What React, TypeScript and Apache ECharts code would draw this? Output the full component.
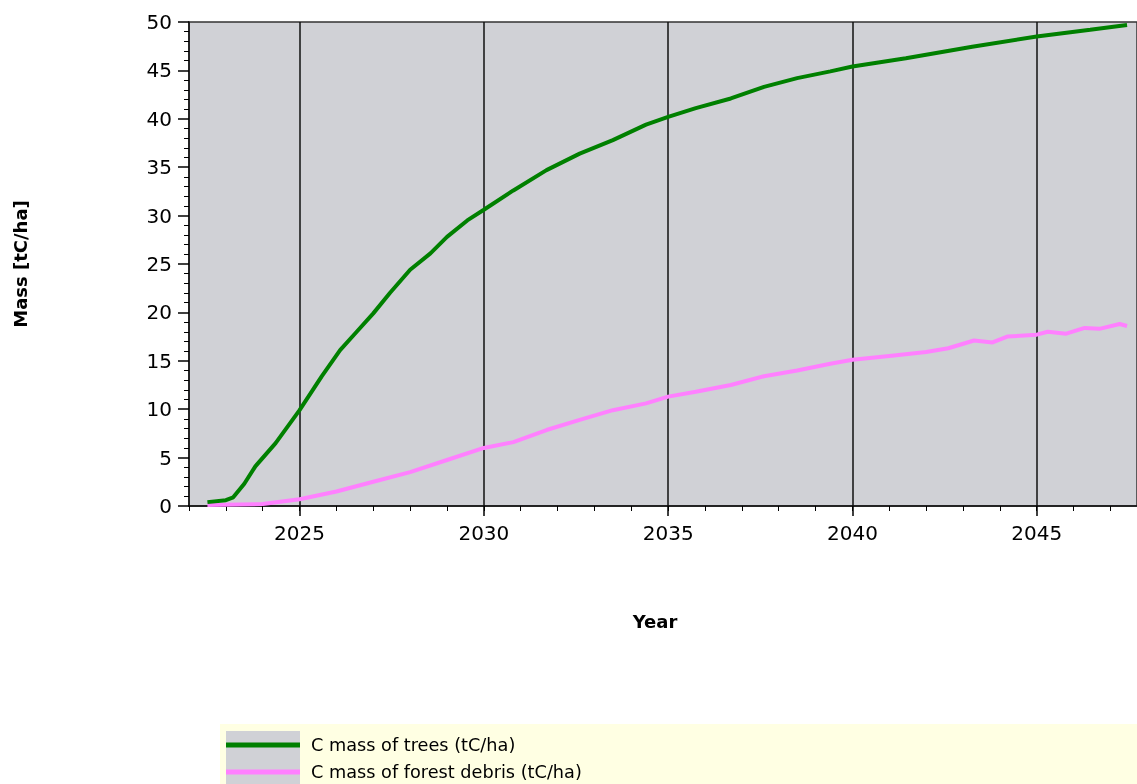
import React, { useEffect, useRef } from "react";
import * as echarts from "echarts";

const treeYears = [2022.5, 2023.0, 2023.2, 2023.5, 2023.8, 2024.35, 2025.0, 2025.6, 2026.1, 2026.55, 2027.0, 2027.45, 2028.0, 2028.55, 2029.0, 2029.55, 2030.0, 2030.8, 2031.7, 2032.6, 2033.5, 2034.4, 2035.0, 2035.75, 2036.7, 2037.6, 2038.5, 2039.4, 2040.0, 2041.45, 2043.25, 2045.0, 2046.45, 2047.45];
const treeValues = [0.4, 0.6, 0.9, 2.3, 4.1, 6.5, 9.9, 13.4, 16.1, 18.0, 19.9, 22.0, 24.4, 26.1, 27.8, 29.5, 30.6, 32.6, 34.7, 36.4, 37.8, 39.4, 40.2, 41.1, 42.1, 43.3, 44.2, 44.9, 45.4, 46.25, 47.45, 48.5, 49.2, 49.7];

const debrisYears = [2022.5, 2024.0, 2025.0, 2026.0, 2027.0, 2028.0, 2029.0, 2030.0, 2030.8, 2031.7, 2032.6, 2033.5, 2034.4, 2035.0, 2035.75, 2036.7, 2037.6, 2038.5, 2039.4, 2040.0, 2041.0, 2042.0, 2042.6, 2043.3, 2043.8, 2044.2, 2045.0, 2045.3, 2045.8, 2046.3, 2046.7, 2047.25, 2047.45];
const debrisValues = [0.1, 0.2, 0.7, 1.5, 2.5, 3.5, 4.75, 6.0, 6.6, 7.85, 8.9, 9.9, 10.6, 11.3, 11.8, 12.5, 13.4, 14.0, 14.7, 15.1, 15.5, 15.9, 16.3, 17.1, 16.9, 17.5, 17.7, 18.0, 17.8, 18.4, 18.3, 18.8, 18.6];

const majorYears = [2025, 2030, 2035, 2040, 2045];
const seriesNames = ["C mass of trees (tC/ha)", "C mass of forest debris (tC/ha)"];
const seriesColors = ["#008000", "#ff80ff"];

const FONT = "'DejaVu Sans', Verdana, sans-serif";

export default function App() {
  const ref = useRef<HTMLDivElement>(null);
  useEffect(() => {
    if (!ref.current) return;
    const chart = echarts.init(ref.current, null, { renderer: "svg" });
    const xMin = 2022;
    const xMax = 2047.72;
    chart.setOption({
      animation: false,
      textStyle: { fontFamily: FONT },
      grid: {
        left: 189,
        top: 22,
        right: 0,
        bottom: 278,
        show: true,
        backgroundColor: "#d0d1d6",
        borderColor: "#333",
        borderWidth: 1.5,
      },
      graphic: [
        {
          type: "rect",
          left: 220,
          top: 724,
          shape: { width: 917, height: 60 },
          style: { fill: "#ffffe3" },
          z: 0,
        },
        {
          type: "rect",
          left: 226,
          top: 731,
          shape: { width: 74, height: 53 },
          style: { fill: "#d0d1d6" },
          z: 1,
        },
      ],
      legend: {
        orient: "vertical",
        left: 226,
        top: 735,
        padding: 0,
        z: 10,
        icon: "rect",
        itemWidth: 74,
        itemHeight: 5,
        itemGap: 7,
        data: seriesNames,
        textStyle: {
          fontSize: 17.7,
          color: "#000",
          fontFamily: FONT,
          lineHeight: 20,
          padding: [0, 0, 0, 6],
        },
      },
      xAxis: [
        {
          type: "value",
          min: xMin,
          max: xMax,
          name: "Year",
          nameLocation: "middle",
          nameGap: 106,
          nameTextStyle: { fontSize: 18, fontWeight: "bold", color: "#000", fontFamily: FONT, padding: [0, 16, 0, 0] },
          axisLine: { show: true, onZero: false, lineStyle: { color: "#111", width: 1.5 } },
          axisTick: { show: true, customValues: majorYears, length: 10, lineStyle: { color: "#000", width: 1.5 } },
          axisLabel: {
            customValues: majorYears,
            fontSize: 20,
            color: "#000",
            margin: 17,
            fontFamily: FONT,
            formatter: (v: number) => String(v),
          },
          splitLine: { show: true, lineStyle: { color: "#111", width: 1.5 } },
        },
        {
          type: "value",
          min: xMin,
          max: xMax,
          interval: 1,
          position: "bottom",
          axisLine: { show: false },
          axisTick: { show: true, length: 5, lineStyle: { color: "#000" } },
          axisLabel: { show: false },
          splitLine: { show: false },
        },
      ],
      yAxis: {
        type: "value",
        min: 0,
        max: 50,
        interval: 5,
        name: "Mass [tC/ha]",
        nameLocation: "middle",
        nameGap: 160,
        nameTextStyle: { fontSize: 18, fontWeight: "bold", color: "#000", fontFamily: FONT },
        axisLine: { show: true, lineStyle: { color: "#111", width: 1.5 } },
        axisTick: { show: true, length: 11, lineStyle: { color: "#000", width: 1.5 } },
        minorTick: { show: true, splitNumber: 5, length: 5, lineStyle: { color: "#000" } },
        axisLabel: { fontSize: 20, color: "#000", margin: 17, fontFamily: FONT },
        splitLine: { show: false },
      },
      series: [
        {
          name: seriesNames[0],
          type: "line",
          xAxisIndex: 0,
          data: treeYears.map((y, i) => [y, treeValues[i]]),
          showSymbol: false,
          symbol: "none",
          lineStyle: { color: seriesColors[0], width: 4 },
          itemStyle: { color: seriesColors[0] },
          z: 3,
        },
        {
          name: seriesNames[1],
          type: "line",
          xAxisIndex: 0,
          data: debrisYears.map((y, i) => [y, debrisValues[i]]),
          showSymbol: false,
          symbol: "none",
          lineStyle: { color: seriesColors[1], width: 4 },
          itemStyle: { color: seriesColors[1] },
          z: 2,
        },
      ],
    });
    return () => chart.dispose();
  }, []);
  return (
    <div
      ref={ref}
      style={{ position: "fixed", left: 0, top: 0, width: 1137, height: 784 }}
    />
  );
}
